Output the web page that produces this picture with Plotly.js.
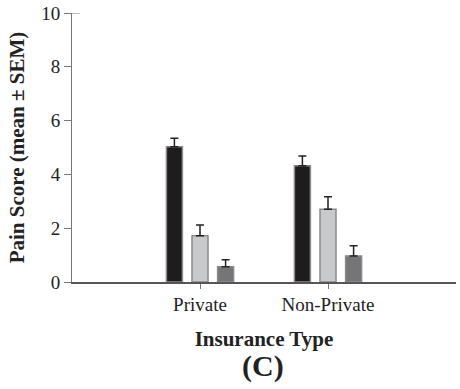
<!DOCTYPE html>
<html><head><meta charset="utf-8">
<script src="https://cdn.plot.ly/plotly-3.0.1.min.js"></script>
<style>body{margin:0;background:#fff}#c{width:460px;height:389px}</style>
</head><body><div id="c"></div>
<script>
var categories = ["Private", "Non-Private"];
var seriesA = [5.03, 4.32];
var errA = [0.31, 0.36];
var seriesB = [1.72, 2.70];
var errB = [0.40, 0.47];
var seriesC = [0.57, 0.97];
var errC = [0.26, 0.38];
var yTicks = [0, 2, 4, 6, 8, 10];
var xIdx = [0, 1];

function tr(y, e, fill) {
  return {
    type: 'bar', x: xIdx, y: y,
    marker: {color: fill, line: {color: '#8a8a8a', width: 1.5}},
    error_y: {type: 'data', array: e, symmetric: false, arrayminus: [0,0], color: '#222', thickness: 1.5, width: 4},
    hoverinfo: 'none', showlegend: false
  };
}
var data = [tr(seriesA, errA, '#1e1c1d'), tr(seriesB, errB, '#c8c9cb'), tr(seriesC, errC, '#757577')];
var serif = 'Liberation Serif, Times New Roman, serif';
var layout = {
  width: 460, height: 389,
  margin: {l: 72, r: 4, t: 13, b: 107},
  paper_bgcolor: '#fff', plot_bgcolor: '#fff',
  barmode: 'group', bargap: 0.4, bargroupgap: 0.375,
  font: {family: serif, color: '#222'},
  xaxis: {
    range: [-1, 2], tickvals: xIdx, ticktext: categories,
    showline: true, linecolor: '#555', linewidth: 1.5,
    ticks: 'outside', ticklen: 5, tickcolor: '#777', tickwidth: 1,
    showgrid: false, zeroline: false, tickfont: {size: 19, color: '#222'},
    title: {text: '<b>Insurance Type</b>', font: {size: 21, color: '#222'}, standoff: 17}
  },
  yaxis: {
    range: [0, 10], tickvals: yTicks,
    showline: true, linecolor: '#777', linewidth: 1,
    ticks: 'outside', ticklen: 7, tickcolor: '#777',
    showgrid: false, zeroline: false, tickfont: {size: 19, color: '#222'},
    title: {text: '<b>Pain Score (mean ± SEM)</b>', font: {size: 21, color: '#222'}, standoff: 10}
  },
  shapes: [{type: 'line', xref: 'paper', yref: 'y', x0: 0, x1: 0.02, y0: 10, y1: 10, line: {color: '#777', width: 1}}],
  annotations: [{
    text: '<b>(C)</b>', xref: 'paper', yref: 'paper', x: 0.497, y: -0.312,
    xanchor: 'center', yanchor: 'middle', showarrow: false,
    font: {size: 30, color: '#222', family: serif}
  }]
};
Plotly.newPlot('c', data, layout, {staticPlot: true});
</script></body></html>
